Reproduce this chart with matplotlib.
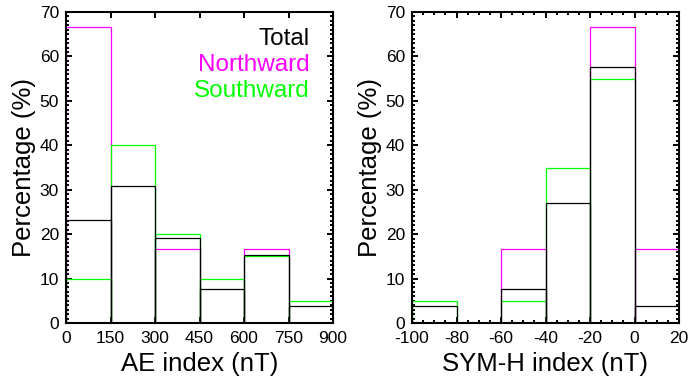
import matplotlib
matplotlib.use("Agg")
import matplotlib.pyplot as plt
from matplotlib.ticker import MultipleLocator

plt.rcParams['font.family'] = ['Liberation Sans', 'DejaVu Sans']
plt.rcParams['axes.unicode_minus'] = False

# AE index bins (nT)
ae_edges = [0, 150, 300, 450, 600, 750, 900]
ae_total = [23.1, 30.8, 19.2, 7.7, 15.4, 3.85]
ae_north = [66.7, 0, 16.7, 0, 16.7, 0]
ae_south = [10, 40, 20, 10, 15, 5]

# SYM-H index bins (nT)
symh_edges = [-100, -80, -60, -40, -20, 0, 20]
symh_total = [3.85, 0, 7.7, 26.9, 57.7, 3.85]
symh_north = [0, 0, 16.7, 0, 66.7, 16.7]
symh_south = [5, 0, 5, 35, 55, 0]

series_names = ['Total', 'Northward', 'Southward']
series_colors = ['black', '#ff00ff', '#00ff00']

fig = plt.figure(figsize=(6.89, 3.8), dpi=100)
ax1 = fig.add_axes([66 / 689, 57 / 380, 267 / 689, 311 / 380])
ax2 = fig.add_axes([412 / 689, 57 / 380, 267 / 689, 311 / 380])


def draw_hist(ax, edges, series):
    width = edges[1] - edges[0]
    for values, color in series:
        ax.bar(edges[:-1], values, width=width, align='edge', fill=False,
               edgecolor=color, linewidth=0.9, zorder=2)
    ax.set_xlim(edges[0], edges[-1])
    ax.set_ylim(0, 70)
    ax.set_xticks(edges)
    ax.yaxis.set_major_locator(MultipleLocator(10))
    ax.yaxis.set_minor_locator(MultipleLocator(1))
    ax.tick_params(which='both', direction='in', top=True, right=True,
                   labelsize=12.5, width=1.4)
    ax.tick_params(which='major', length=4.5, pad=5)
    ax.tick_params(axis='x', which='major', pad=6)
    ax.tick_params(which='minor', length=2.2)
    for sp in ax.spines.values():
        sp.set_linewidth(1.5)
        sp.set_zorder(3)
    ax.set_ylabel('Percentage (%)', fontsize=18.5, labelpad=3)


draw_hist(ax1, ae_edges, [(ae_north, series_colors[1]),
                          (ae_south, series_colors[2]),
                          (ae_total, series_colors[0])])
ax1.set_xlabel('AE index (nT)', fontsize=18.5, labelpad=4)

draw_hist(ax2, symh_edges, [(symh_north, series_colors[1]),
                            (symh_south, series_colors[2]),
                            (symh_total, series_colors[0])])
ax2.xaxis.set_minor_locator(MultipleLocator(5))
ax2.set_xlabel('SYM-H index (nT)', fontsize=18.5, labelpad=4)

label_y = [0.894, 0.81, 0.727]
for name, color, y in zip(series_names, series_colors, label_y):
    ax1.text(0.914, y, name, color=color, fontsize=17.5, ha='right',
             va='baseline', transform=ax1.transAxes)

fig.savefig('out.png', dpi=100)
